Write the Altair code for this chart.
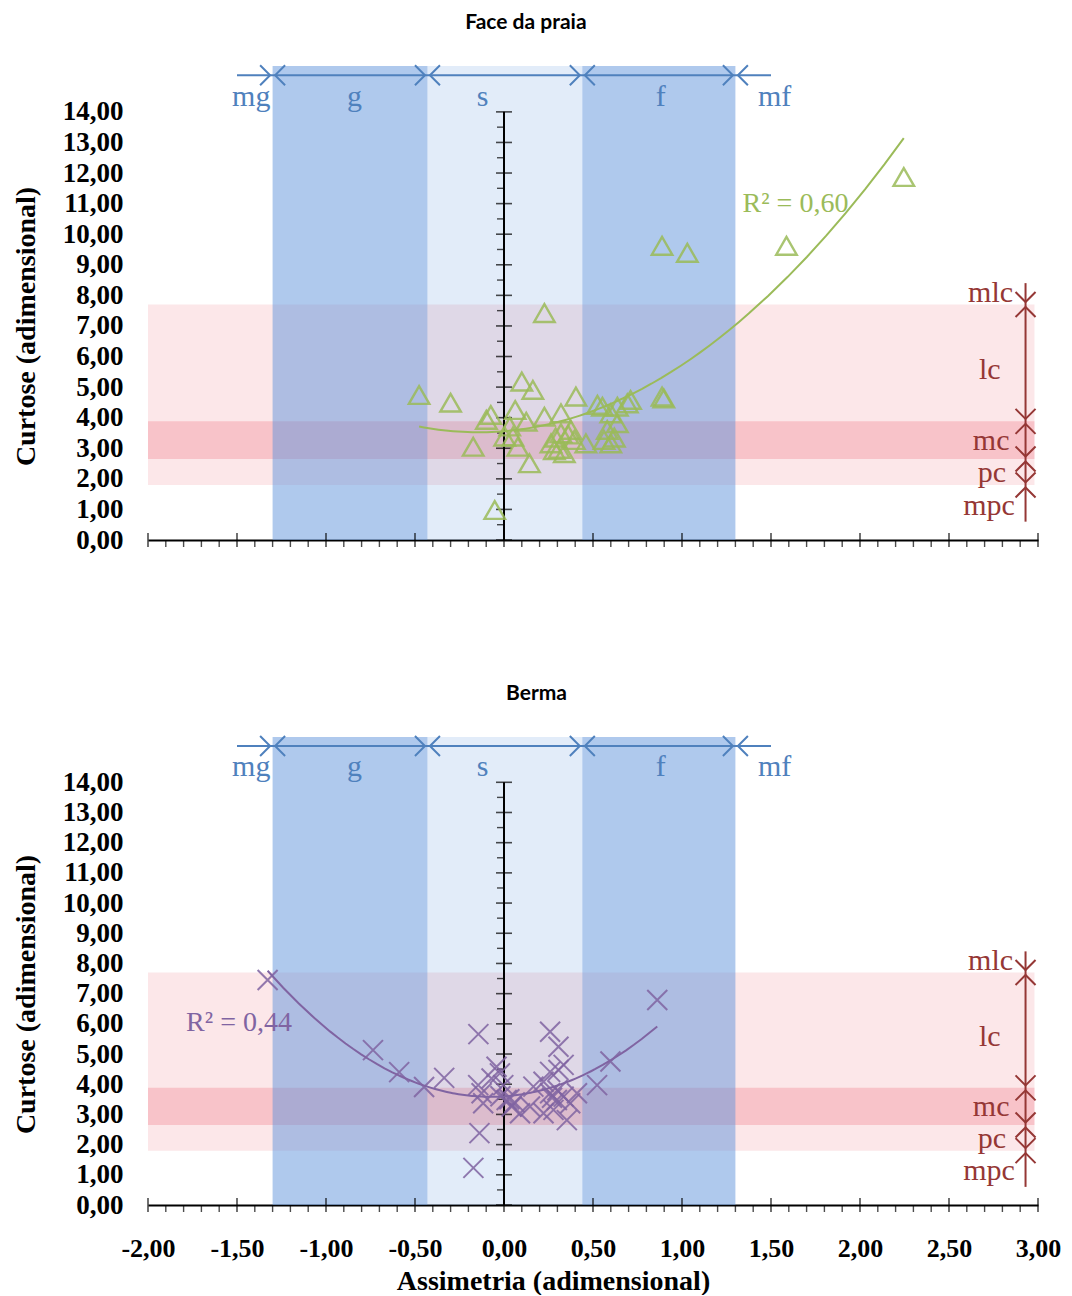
import altair as alt
import pandas as pd

# ---------------- data ----------------
face_skew = [-0.477, -0.30, -0.173, -0.099, -0.074, -0.052, 0.004, 0.032, 0.05, 0.063,
             0.078, 0.10, 0.125, 0.143, 0.162, 0.227, 0.227, 0.264, 0.283, 0.32,
             0.32, 0.339, 0.376, 0.395, 0.404, 0.46, 0.525, 0.553, 0.562, 0.58,
             0.60, 0.60, 0.637, 0.637, 0.693, 0.711, 0.888, 0.898, 0.888, 1.03,
             1.587, 2.246, 0.29, 0.36, 0.31, 0.62]
face_kurt = [4.74, 4.49, 3.05, 3.93, 4.09, 0.98, 3.38, 3.71, 3.38, 4.25,
             3.05, 5.18, 3.87, 2.51, 4.91, 7.42, 4.03, 3.16, 2.94, 4.14,
             3.49, 2.84, 3.60, 3.27, 4.69, 3.16, 4.42, 4.36, 3.27, 3.60,
             4.14, 3.16, 4.36, 3.82, 4.47, 4.58, 4.69, 4.63, 9.62, 9.39,
             9.62, 11.87, 3.35, 3.45, 2.98, 3.35]

berma_skew = [-1.328, -0.736, -0.589, -0.449, -0.336, -0.144, -0.172, -0.138, -0.145, -0.126,
              -0.117, -0.07, -0.042, -0.023, -0.004, 0.015, 0.043, 0.09, 0.146, 0.165,
              0.222, 0.222, 0.259, 0.259, 0.259, 0.278, 0.297, 0.306, 0.306, 0.335,
              0.335, 0.353, 0.372, 0.41, 0.523, 0.598, 0.861, 0.03, 0.06, -0.02,
              0.27, 0.30]
berma_kurt = [7.45, 5.13, 4.40, 3.91, 4.21, 5.66, 1.23, 2.38, 3.97, 3.70,
              3.37, 4.19, 4.58, 4.36, 3.97, 3.48, 3.26, 3.04, 3.26, 3.92,
              4.08, 3.04, 5.74, 4.41, 3.70, 3.15, 3.48, 5.24, 4.47, 4.64,
              3.59, 2.81, 3.37, 3.70, 3.97, 4.75, 6.79, 3.50, 3.40, 3.60,
              3.55, 3.80]

x_major = [-2.0, -1.5, -1.0, -0.5, 0.0, 0.5, 1.0, 1.5, 2.0, 2.5, 3.0]
x_minor = [-1.9, -1.8, -1.7, -1.6, -1.4, -1.3, -1.2, -1.1, -0.9, -0.8, -0.7, -0.6,
           -0.4, -0.3, -0.2, -0.1, 0.1, 0.2, 0.3, 0.4, 0.6, 0.7, 0.8, 0.9,
           1.1, 1.2, 1.3, 1.4, 1.6, 1.7, 1.8, 1.9, 2.1, 2.2, 2.3, 2.4, 2.6, 2.7, 2.8, 2.9]
y_major = [0, 1, 2, 3, 4, 5, 6, 7, 8, 9, 10, 11, 12, 13, 14]
y_minor = [0.5, 1.5, 2.5, 3.5, 4.5, 5.5, 6.5, 7.5, 8.5, 9.5, 10.5, 11.5, 12.5, 13.5]

# skewness classes (blue bands / arrows)
skew_classes = ["mg", "g", "s", "f", "mf"]
skew_label_x = [-1.42, -0.84, -0.12, 0.88, 1.52]
skew_bounds = [-1.30, -0.43, 0.44, 1.30]
skew_band_lo = [-1.30, -0.43, 0.44]
skew_band_hi = [-0.43, 0.44, 1.30]
skew_band_shade = ["#5f93dc", "#6d9ee0", "#5f93dc"]
skew_band_alpha = [0.5, 0.2, 0.5]

# kurtosis classes (pink bands / arrows)
kurt_classes = ["mlc", "lc", "mc", "pc", "mpc"]
kurt_label_y = [8.08, 5.56, 3.24, 2.19, 1.11]
kurt_label_x = [2.86, 2.79, 2.84, 2.82, 2.87]
kurt_bounds = [7.70, 3.88, 2.65, 1.80]
kurt_band_lo = [1.80, 2.65]
kurt_band_hi = [7.70, 3.88]
kurt_band_shade = ["#f4a0a8", "#f08090"]
kurt_band_alpha = [0.25, 0.35]

BLUE = "#4F81BD"
RED = "#953735"
GREEN = "#9BBB59"
PURPLE = "#8064A2"
SERIF = "Liberation Serif"

FMT = "replace(replace(format(datum.value, '.2f'), '.', ','), '\u2212', '-')"

RIGHT = "M-1,-1L0,0L-1,1"
LEFT = "M1,-1L0,0L1,1"
DOWN = "M-1,-1L0,0L1,-1"
UP = "M-1,1L0,0L1,1"
XSHAPE = "M-1,-1L1,1M-1,1L1,-1"


def panel(title, skew, kurt, color, shape, r2_text, r2_x, r2_y, height, bottom):
    xs = alt.Scale(domain=[-2, 3], nice=False, zero=False)
    ys = alt.Scale(domain=[0, 15.5], nice=False, zero=False)

    x_axis_kw = dict(values=x_major, labelExpr=FMT, ticks=False, grid=False,
                     domain=True, domainColor="black", domainWidth=2,
                     labelFlush=False, labelOverlap=False, labelFont=SERIF,
                     labelFontSize=26, labelFontWeight="bold", labelColor="black",
                     labelPadding=30, titleFont=SERIF, titleFontSize=28,
                     titleFontWeight="bold", titleColor="black", titlePadding=6)
    if bottom:
        x_axis_kw["title"] = "Assimetria (adimensional)"
        x_axis_kw["titleX"] = 405
    else:
        x_axis_kw["labels"] = False
        x_axis_kw["title"] = ""
    x_axis = alt.Axis(**x_axis_kw)
    y_axis = alt.Axis(values=y_major, labelExpr=FMT, ticks=False, grid=False, domain=False,
                      labelOverlap=False, labelFont=SERIF, labelFontSize=27,
                      labelFontWeight="bold", labelColor="black", labelPadding=25,
                      title="Curtose (adimensional)", titleFont=SERIF, titleFontSize=28,
                      titleFontWeight="bold", titleColor="black", titlePadding=22,
                      titleY=height / 2 + 23)

    def X(f):
        return alt.X(f, scale=xs, axis=x_axis)

    def Y(f):
        return alt.Y(f, scale=ys, axis=y_axis)

    pink_df = pd.DataFrame({"x0": [-2.0, -2.0], "x1": [2.98, 2.98], "y0": kurt_band_lo,
                            "y1": kurt_band_hi, "c": kurt_band_shade, "o": kurt_band_alpha})
    pink = alt.Chart(pink_df).mark_rect().encode(
        x=X("x0:Q"), x2="x1:Q", y=Y("y0:Q"), y2="y1:Q",
        color=alt.Color("c:N", scale=None), opacity=alt.Opacity("o:Q", scale=None))

    blue_df = pd.DataFrame({"x0": skew_band_lo, "x1": skew_band_hi, "y0": [0, 0, 0],
                            "y1": [15.5, 15.5, 15.5], "c": skew_band_shade, "o": skew_band_alpha})
    blue = alt.Chart(blue_df).mark_rect().encode(
        x=X("x0:Q"), x2="x1:Q", y=Y("y0:Q"), y2="y1:Q",
        color=alt.Color("c:N", scale=None), opacity=alt.Opacity("o:Q", scale=None))

    # y axis line drawn at x = 0
    vline = alt.Chart(pd.DataFrame({"x": [0.0], "y0": [0.0], "y1": [14.0]})).mark_rule(
        color="black", strokeWidth=2).encode(x=X("x:Q"), y=Y("y0:Q"), y2="y1:Q")

    xmaj = alt.Chart(pd.DataFrame({"t": x_major, "z": [0.0] * len(x_major)})).mark_tick(
        orient="vertical", size=14, thickness=1.6, color="black").encode(x=X("t:Q"), y=Y("z:Q"))
    xmin = alt.Chart(pd.DataFrame({"t": x_minor, "z": [0.0] * len(x_minor)})).mark_tick(
        orient="vertical", size=7, thickness=1.4, color="black", yOffset=3.5).encode(
        x=X("t:Q"), y=Y("z:Q"))
    ymaj = alt.Chart(pd.DataFrame({"t": y_major, "z": [0.0] * len(y_major)})).mark_tick(
        orient="horizontal", size=16, thickness=1.6, color="black").encode(x=X("z:Q"), y=Y("t:Q"))
    ymin = alt.Chart(pd.DataFrame({"t": y_minor, "z": [0.0] * len(y_minor)})).mark_tick(
        orient="horizontal", size=7, thickness=1.4, color="black", xOffset=-3.5).encode(
        x=X("z:Q"), y=Y("t:Q"))

    # skewness arrows
    bline = alt.Chart(pd.DataFrame({"a": [-1.5], "b": [1.5], "y": [15.2]})).mark_rule(
        color=BLUE, strokeWidth=2).encode(x=X("a:Q"), x2="b:Q", y=Y("y:Q"))
    bch_r = alt.Chart(pd.DataFrame({"x": skew_bounds, "y": [15.2] * 4, "p": [RIGHT] * 4})).mark_point(
        filled=False, color=BLUE, strokeWidth=2, size=400, opacity=1, xOffset=-2.5).encode(
        x=X("x:Q"), y=Y("y:Q"), shape=alt.Shape("p:N", scale=None))
    bch_l = alt.Chart(pd.DataFrame({"x": skew_bounds, "y": [15.2] * 4, "p": [LEFT] * 4})).mark_point(
        filled=False, color=BLUE, strokeWidth=2, size=400, opacity=1, xOffset=2.5).encode(
        x=X("x:Q"), y=Y("y:Q"), shape=alt.Shape("p:N", scale=None))
    blab = alt.Chart(pd.DataFrame({"t": skew_classes, "x": skew_label_x, "y": [14.5] * 5})).mark_text(
        font=SERIF, fontSize=30, color=BLUE, align="center", baseline="middle").encode(
        x=X("x:Q"), y=Y("y:Q"), text="t:N")

    # kurtosis arrows
    rline = alt.Chart(pd.DataFrame({"x": [2.93], "a": [0.6], "b": [8.4]})).mark_rule(
        color=RED, strokeWidth=2).encode(x=X("x:Q"), y=Y("a:Q"), y2="b:Q")
    rch_d = alt.Chart(pd.DataFrame({"x": [2.93] * 4, "y": kurt_bounds, "p": [DOWN] * 4})).mark_point(
        filled=False, color=RED, strokeWidth=2, size=400, opacity=1, yOffset=-2.5).encode(
        x=X("x:Q"), y=Y("y:Q"), shape=alt.Shape("p:N", scale=None))
    rch_u = alt.Chart(pd.DataFrame({"x": [2.93] * 4, "y": kurt_bounds, "p": [UP] * 4})).mark_point(
        filled=False, color=RED, strokeWidth=2, size=400, opacity=1, yOffset=2.5).encode(
        x=X("x:Q"), y=Y("y:Q"), shape=alt.Shape("p:N", scale=None))
    rlab = alt.Chart(pd.DataFrame({"t": kurt_classes, "x": kurt_label_x, "y": kurt_label_y})).mark_text(
        font=SERIF, fontSize=30, color=RED, align="right", baseline="middle").encode(
        x=X("x:Q"), y=Y("y:Q"), text="t:N")

    pts_df = pd.DataFrame({"s": skew, "k": kurt})
    if shape == "triangle":
        pts = alt.Chart(pts_df).mark_point(shape="triangle-up", filled=False, color=color,
                                           strokeWidth=2.4, size=420, opacity=0.85).encode(
            x=X("s:Q"), y=Y("k:Q"))
    else:
        pts = alt.Chart(pts_df).mark_point(shape=XSHAPE, filled=False, color=color,
                                           strokeWidth=2, size=400, opacity=0.85).encode(
            x=X("s:Q"), y=Y("k:Q"))

    trend = alt.Chart(pts_df).transform_regression(
        "s", "k", method="poly", order=2).mark_line(color=color, strokeWidth=2).encode(
        x=X("s:Q"), y=Y("k:Q"))

    r2 = alt.Chart(pd.DataFrame({"t": [r2_text], "x": [r2_x], "y": [r2_y]})).mark_text(
        font=SERIF, fontSize=28, color=color, align="left", baseline="middle").encode(
        x=X("x:Q"), y=Y("y:Q"), text="t:N")

    return alt.layer(pink, blue, vline, xmaj, xmin, ymaj, ymin, bline, bch_r, bch_l, blab,
                     rline, rch_d, rch_u, rlab, pts, trend, r2).properties(
        width=890, height=height,
        title=alt.TitleParams(title, font="Lato", fontSize=21, fontWeight="bold",
                              color="black", anchor="middle", frame="bounds", offset=28))


top = panel("Face da praia", face_skew, face_kurt, GREEN, "triangle",
            "R² = 0,60", 1.34, 10.99, 474, False)
bottom = panel("Berma", berma_skew, berma_kurt, PURPLE, "x",
               "R² = 0,44", -1.786, 6.03, 468, True)

chart = alt.vconcat(top, bottom, spacing=130).properties(
    padding={"left": 4, "top": 4, "right": 0, "bottom": 0}).configure_view(strokeWidth=0)

chart.save("out.html", embed_options={"renderer": "svg", "actions": False})
